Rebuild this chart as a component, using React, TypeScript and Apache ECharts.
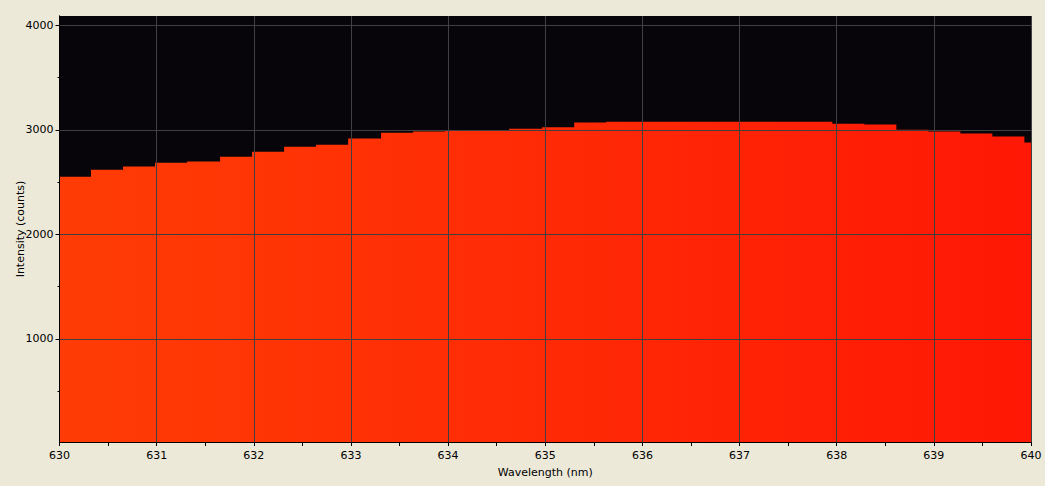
import React, { useEffect, useRef } from "react";
import * as echarts from "echarts";

// Start wavelength (nm) of each pixel bin
const binStarts = [
  630.0, 630.324, 630.654, 630.983, 631.313, 631.653, 631.982, 632.312, 632.641, 632.971,
  633.31, 633.64, 633.969, 634.299, 634.628, 634.968, 635.298, 635.627, 635.957, 636.286,
  636.616, 636.956, 637.285, 637.615, 637.955, 638.284, 638.614, 638.943, 639.273, 639.602,
  639.932,
];
// Intensity (counts) of each bin
const intensity = [
  2553, 2620, 2649, 2687, 2697, 2744, 2792, 2840, 2859, 2917,
  2974, 2984, 2993, 2995, 3012, 3025, 3070, 3079, 3079, 3079,
  3079, 3079, 3079, 3079, 3060, 3051, 3001, 2984, 2965, 2936,
  2879,
];
const xEnd = 640;
const yMajorTicks = [1000, 2000, 3000, 4000];
const yMinorTicks = [500, 1500, 2500, 3500];

const FONT = "DejaVu Sans";

export default function App() {
  const ref = useRef<HTMLDivElement>(null);
  useEffect(() => {
    if (!ref.current) return;
    const chart = echarts.init(ref.current, undefined, { renderer: "svg" });
    const data: number[][] = binStarts.map((x, i) => [x, intensity[i]]);
    data.push([xEnd, intensity[intensity.length - 1]]);
    const yBase = {
      type: "value",
      min: 14,
      max: 4090,
      position: "left",
      z: 10,
      axisLine: { show: true, onZero: false, lineStyle: { color: "#000", width: 1 } },
    };
    chart.setOption({
      animation: false,
      backgroundColor: "#ECE9D8",
      grid: {
        left: 59.5,
        right: 14,
        top: 16,
        bottom: 44,
        containLabel: false,
        outerBoundsMode: "none",
        show: true,
        backgroundColor: "#07050a",
        borderWidth: 0,
      },
      xAxis: {
        type: "value",
        min: 630,
        max: 640,
        interval: 1,
        z: 10,
        name: "Wavelength (nm)",
        nameLocation: "middle",
        nameGap: 25,
        nameMoveOverlap: false,
        nameTextStyle: { fontFamily: FONT, fontSize: 11, color: "#000" },
        axisLine: { show: true, onZero: false, lineStyle: { color: "#000", width: 1 } },
        axisTick: { show: true, length: 4, lineStyle: { color: "#000" } },
        minorTick: { show: true, splitNumber: 2, length: 4, lineStyle: { color: "#000" } },
        axisLabel: {
          fontFamily: FONT,
          fontSize: 11,
          color: "#000",
          margin: 8,
          formatter: (v: number) => String(v),
        },
        splitLine: { show: true, lineStyle: { color: "#404040", width: 1 } },
      },
      yAxis: [
        {
          ...yBase,
          name: "Intensity (counts)",
          nameLocation: "middle",
          nameGap: 34,
          nameMoveOverlap: false,
          nameTextStyle: { fontFamily: FONT, fontSize: 11, color: "#000" },
          axisTick: { show: true, length: 4, customValues: yMajorTicks, lineStyle: { color: "#000" } },
          axisLabel: {
            fontFamily: FONT,
            fontSize: 11,
            color: "#000",
            margin: 6,
            customValues: yMajorTicks,
            formatter: (v: number) => String(v),
          },
          splitLine: { show: true, lineStyle: { color: "#404040", width: 1 } },
        },
        {
          ...yBase,
          axisTick: { show: true, length: 2, customValues: yMinorTicks, lineStyle: { color: "#000" } },
          axisLabel: { show: false },
          splitLine: { show: false },
        },
      ],
      series: [
        {
          type: "line",
          step: "end",
          data,
          symbol: "none",
          showSymbol: false,
          lineStyle: { width: 0 },
          areaStyle: {
            opacity: 1,
            color: new echarts.graphic.LinearGradient(0, 0, 1, 0, [
              { offset: 0, color: "#FF3C05" },
              { offset: 1, color: "#FF1805" },
            ]),
          },
          z: 2,
        },
      ],
    });
    return () => chart.dispose();
  }, []);
  return (
    <div
      ref={ref}
      style={{ position: "fixed", left: 0, top: 0, width: 1045, height: 486 }}
    />
  );
}
